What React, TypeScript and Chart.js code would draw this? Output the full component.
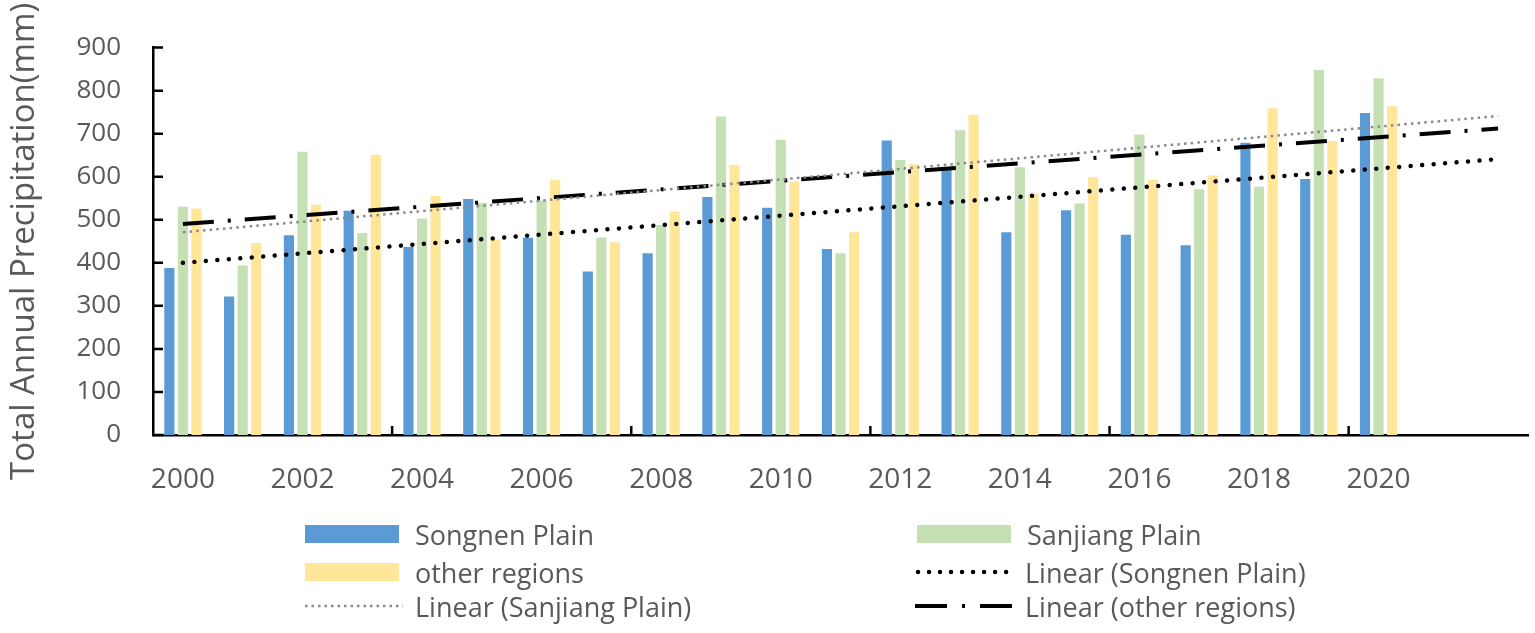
import { useEffect, useRef } from 'react'
import { Chart, registerables } from 'chart.js'

Chart.register(...registerables)

// categories (2021 and 2022 only carry the forward trend)
const years = [
  '2000', '2001', '2002', '2003', '2004', '2005', '2006', '2007',
  '2008', '2009', '2010', '2011', '2012', '2013', '2014', '2015',
  '2016', '2017', '2018', '2019', '2020', '2021', '2022',
]

// annual precipitation, mm
const songnen = [388, 322, 464, 521, 437, 548, 458, 380, 422, 553, 528, 432, 684, 620, 471, 522, 465, 441, 679, 595, 748]
const sanjiang = [530, 394, 658, 469, 503, 539, 545, 459, 488, 740, 686, 422, 639, 708, 622, 538, 698, 571, 577, 848, 829]
const others = [526, 446, 535, 651, 555, 454, 593, 448, 519, 627, 589, 471, 629, 744, 561, 599, 593, 603, 759, 683, 764]

// linear trend values at 2000 and at 2022
const trendYears = ['2000', '2022']
const songnenTrend = [400, 641]
const sanjiangTrend = [471, 741]
const othersTrend = [490, 712]

const FONT = "'Open Sans', sans-serif"
const GREY = '#595959'

const trend = (vals: number[]) => vals.map((v, i) => ({ x: trendYears[i], y: v }))

// Excel style inside tick marks
const innerTicks = {
  id: 'innerTicks',
  afterDraw(chart: any) {
    const ctx = chart.ctx
    const area = chart.chartArea
    const x = chart.scales.x
    const y = chart.scales.y
    ctx.save()
    ctx.strokeStyle = '#000'
    ctx.lineWidth = 2.5
    ctx.beginPath()
    for (let v = 0; v <= 900; v += 100) {
      const py = y.getPixelForValue(v)
      ctx.moveTo(area.left, py)
      ctx.lineTo(area.left + 10, py)
    }
    const step = x.getPixelForValue(1) - x.getPixelForValue(0)
    for (let i = 4; i < years.length; i += 4) {
      const px = x.getPixelForValue(i) - step / 2
      ctx.moveTo(px, area.bottom)
      ctx.lineTo(px, area.bottom - 9)
    }
    ctx.stroke()
    ctx.restore()
  },
}

function Legend() {
  const text: React.CSSProperties = { fontFamily: FONT, fontSize: 27, color: GREY, whiteSpace: 'nowrap' }
  const row = (top: number, left: number, swatch: React.ReactNode, label: string) => (
    <div style={{ position: 'absolute', top: top - 20, left, height: 40, display: 'flex', alignItems: 'center' }}>
      <div style={{ width: 98, height: 18, display: 'flex', alignItems: 'center' }}>{swatch}</div>
      <span style={{ ...text, marginLeft: 12 }}>{label}</span>
    </div>
  )
  const box = (c: string) => <div style={{ width: 94, height: 18, background: c }} />
  const line = (stroke: string, w: number, dash: string, cap: 'round' | 'butt') => (
    <svg width={98} height={18}>
      <line x1={cap === 'round' ? 3 : 0} y1={9} x2={98} y2={9} stroke={stroke} strokeWidth={w} strokeDasharray={dash} strokeLinecap={cap} />
    </svg>
  )
  return (
    <>
      {row(534, 305, box('#5b9bd5'), 'Songnen Plain')}
      {row(534, 917, box('#c5e0b4'), 'Sanjiang Plain')}
      {row(572, 305, box('#ffe699'), 'other regions')}
      {row(572, 915, line('#000', 4.5, '0.01 11', 'round'), 'Linear (Songnen Plain)')}
      {row(606, 305, line('#8a8a8a', 2.5, '2.5 4', 'butt'), 'Linear (Sanjiang Plain)')}
      {row(606, 915, line('#000', 4, '32 15 3 15 32', 'butt'), 'Linear (other regions)')}
    </>
  )
}

export default function App() {
  const canvasRef = useRef<HTMLCanvasElement>(null)
  const chartRef = useRef<Chart | null>(null)

  useEffect(() => {
    document.body.style.margin = '0'
    if (!canvasRef.current) return
    if (chartRef.current) chartRef.current.destroy()
    chartRef.current = new Chart(canvasRef.current, {
      type: 'bar',
      data: {
        labels: years,
        datasets: [
          { type: 'line', label: 'Linear (Songnen Plain)', data: trend(songnenTrend) as any, borderColor: '#000', borderWidth: 4.5, borderDash: [0.01, 11.5], borderCapStyle: 'round', pointRadius: 0, order: 0 },
          { type: 'line', label: 'Linear (Sanjiang Plain)', data: trend(sanjiangTrend) as any, borderColor: '#8a8a8a', borderWidth: 2.5, borderDash: [2.5, 4.2], pointRadius: 0, order: 0 },
          { type: 'line', label: 'Linear (other regions)', data: trend(othersTrend) as any, borderColor: '#000', borderWidth: 4, borderDash: [31, 14, 3, 14], pointRadius: 0, order: 0 },
          { label: 'Songnen Plain', data: songnen, backgroundColor: '#5b9bd5', order: 1 },
          { label: 'Sanjiang Plain', data: sanjiang, backgroundColor: '#c5e0b4', order: 1 },
          { label: 'other regions', data: others, backgroundColor: '#ffe699', order: 1 },
        ],
      },
      options: {
        animation: false,
        responsive: true,
        maintainAspectRatio: false,
        layout: { padding: { top: 42, right: 7, left: 0, bottom: 0 } },
        datasets: { bar: { categoryPercentage: 0.68, barPercentage: 0.75 } },
        plugins: { legend: { display: false }, tooltip: { enabled: false } },
        scales: {
          x: {
            grid: { display: false, drawTicks: false },
            border: { color: '#000', width: 2.5 },
            ticks: {
              autoSkip: false,
              maxRotation: 0,
              padding: 28,
              color: GREY,
              font: { family: FONT, size: 28 },
              callback: (_v: any, i: number) => (i % 2 === 0 && i <= 20 ? years[i] : ''),
            },
            afterFit: (s: any) => { s.height = 198 },
          },
          y: {
            min: 0,
            max: 900,
            grid: { display: false, drawTicks: false },
            border: { color: '#000', width: 2.5 },
            ticks: { stepSize: 100, padding: 32, color: GREY, font: { family: FONT, size: 26 } },
            title: { display: true, text: 'Total Annual Precipitation(mm)', color: GREY, font: { family: FONT, size: 33 }, padding: { top: 5, bottom: 0 } },
            afterFit: (s: any) => { s.width = 153 },
          },
        },
      },
      plugins: [innerTicks],
    })
    return () => { if (chartRef.current) chartRef.current.destroy() }
  }, [])

  return (
    <div style={{ position: 'relative', width: 1535, height: 633, background: '#fff' }}>
      <canvas ref={canvasRef} />
      <Legend />
    </div>
  )
}
